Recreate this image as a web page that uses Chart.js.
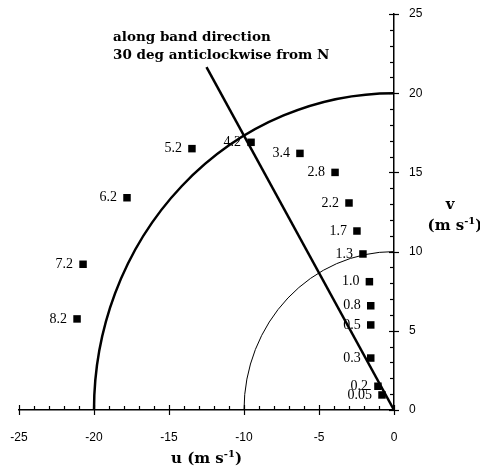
<!DOCTYPE html>
<html><head><meta charset="utf-8">
<script src="https://cdn.jsdelivr.net/npm/chart.js@4"></script>
<style>html,body{margin:0;padding:0;background:#fff}</style>
</head><body>
<canvas id="c" width="480" height="466"></canvas>
<script>
// ---- data ----
const pointLabels = ['0.05','0.2','0.3','0.5','0.8','1.0','1.3','1.7','2.2','2.8','3.4','4.2','5.2','6.2','7.2','8.2'];
const uValues = [-0.8,-1.07,-1.55,-1.55,-1.55,-1.64,-2.07,-2.47,-3.0,-3.93,-6.27,-9.53,-13.47,-17.8,-20.73,-21.13];
const vValues = [0.95,1.5,3.28,5.37,6.58,8.1,9.85,11.3,13.07,15.0,16.2,16.9,16.5,13.4,9.2,5.75];
const bandU = [0, -12.5];
const bandV = [0, 21.65];
const circleRadii = [20, 10];
const xTickValues = [-25,-20,-15,-10,-5,0];
const yTickValues = [0,5,10,15,20,25];

const SERIF = '"DejaVu Serif", "Liberation Serif", serif';
const LSERIF = '"Liberation Serif", "DejaVu Serif", serif';
const SANS = '"Liberation Sans", Arial, sans-serif';

const scatterData = uValues.map((u,i)=>({x:u, y:vValues[i]}));
const bandData = bandU.map((u,i)=>({x:u, y:bandV[i]}));

function drawSup(ctx, parts, x, y, font, supFont, align){
  let total = 0;
  parts.forEach(p=>{ ctx.font = p[1]?supFont:font; total += ctx.measureText(p[0]).width; });
  let cx = align==='center' ? x - total/2 : x;
  ctx.textAlign='left'; ctx.textBaseline='alphabetic';
  parts.forEach(p=>{
    ctx.font = p[1]?supFont:font;
    ctx.fillText(p[0], cx, p[1]? y-6 : y);
    cx += ctx.measureText(p[0]).width;
  });
}

const decor = {
  id:'decor',
  beforeDatasetsDraw(chart){
    const {ctx, chartArea:a, scales:{x:xs, y:ys}} = chart;
    const cx = xs.getPixelForValue(0), cy = ys.getPixelForValue(0);
    ctx.save();
    ctx.strokeStyle='#000';
    circleRadii.forEach((r,i)=>{
      const rx = cx - xs.getPixelForValue(-r);
      const ry = cy - ys.getPixelForValue(r);
      ctx.lineWidth = i===0 ? 2.5 : 1;
      ctx.beginPath();
      ctx.ellipse(cx, cy, rx, ry, 0, Math.PI, 1.5*Math.PI);
      ctx.stroke();
    });
    // axis ticks
    ctx.lineWidth = 1.2;
    for (let v = xs.min; v <= xs.max; v++){
      const px = Math.round(xs.getPixelForValue(v))+0.5;
      ctx.beginPath();
      if (v % 5 === 0){ ctx.moveTo(px, a.bottom-5); ctx.lineTo(px, a.bottom+5); }
      else { ctx.moveTo(px, a.bottom-4); ctx.lineTo(px, a.bottom); }
      ctx.stroke();
    }
    for (let v = ys.min; v <= ys.max; v++){
      const py = Math.round(ys.getPixelForValue(v))+0.5;
      ctx.beginPath();
      if (v % 5 === 0){ ctx.moveTo(a.right-5, py); ctx.lineTo(a.right+5, py); }
      else { ctx.moveTo(a.right-4, py); ctx.lineTo(a.right, py); }
      ctx.stroke();
    }
    ctx.restore();
  },
  afterDatasetsDraw(chart){
    const {ctx, chartArea:a, scales:{x:xs, y:ys}} = chart;
    ctx.save();
    ctx.fillStyle='#000';
    // point labels
    const meta = chart.getDatasetMeta(0);
    ctx.font = '14px ' + LSERIF;
    ctx.textAlign='right'; ctx.textBaseline='middle';
    meta.data.forEach((el,i)=>{
      ctx.fillText(pointLabels[i], el.x - 10, el.y);
    });
    // annotation
    ctx.font = 'bold 13.5px ' + SERIF;
    ctx.textAlign='left'; ctx.textBaseline='alphabetic';
    const ax = xs.getPixelForValue(-18.73);
    ctx.fillText('along band direction', ax, ys.getPixelForValue(23.3));
    ctx.fillText('30 deg anticlockwise from N', ax, ys.getPixelForValue(22.16));
    // axis titles
    const tf = 'bold 15px ' + SERIF, sf = 'bold 10px ' + SERIF;
    drawSup(ctx, [['u (m s',false],['-1',true],[')',false]], (a.left+a.right)/2, 463, tf, sf, 'center');
    ctx.font = tf; ctx.textAlign='center';
    ctx.fillText('v', 450, 209);
    drawSup(ctx, [['(m s',false],['-1',true],[')',false]], 455, 230, tf, sf, 'center');
    ctx.restore();
  }
};

new Chart(document.getElementById('c'), {
  type:'scatter',
  data:{datasets:[
    {data:scatterData, pointStyle:'rect', pointRadius:5.3, backgroundColor:'#000', borderColor:'#000', borderWidth:0},
    {type:'line', data:bandData, borderColor:'#000', borderWidth:2.5, pointRadius:0, fill:false, tension:0}
  ]},
  options:{
    responsive:false, animation:false, events:[],
    layout:{padding:{left:19, top:14, right:0, bottom:0}},
    plugins:{legend:{display:false}, tooltip:{enabled:false}},
    scales:{
      x:{type:'linear', min:-25, max:0,
        afterFit(s){ s.height = 56; s.paddingLeft = 0; s.paddingRight = 0; },
        afterBuildTicks(s){ s.ticks = xTickValues.map(v=>({value:v})); },
        grid:{display:false, drawTicks:false},
        border:{display:true, color:'#000', width:1.5},
        ticks:{padding:20, color:'#000', font:{family:SANS, size:12}, autoSkip:false, maxRotation:0}
      },
      y:{type:'linear', position:'right', min:0, max:25,
        afterFit(s){ s.width = 86; s.paddingTop = 0; s.paddingBottom = 0; },
        afterBuildTicks(s){ s.ticks = yTickValues.map(v=>({value:v})); },
        grid:{display:false, drawTicks:false},
        border:{display:true, color:'#000', width:1.5},
        ticks:{padding:15, color:'#000', font:{family:SANS, size:12}, autoSkip:false}
      }
    }
  },
  plugins:[decor]
});
</script>
</body></html>
